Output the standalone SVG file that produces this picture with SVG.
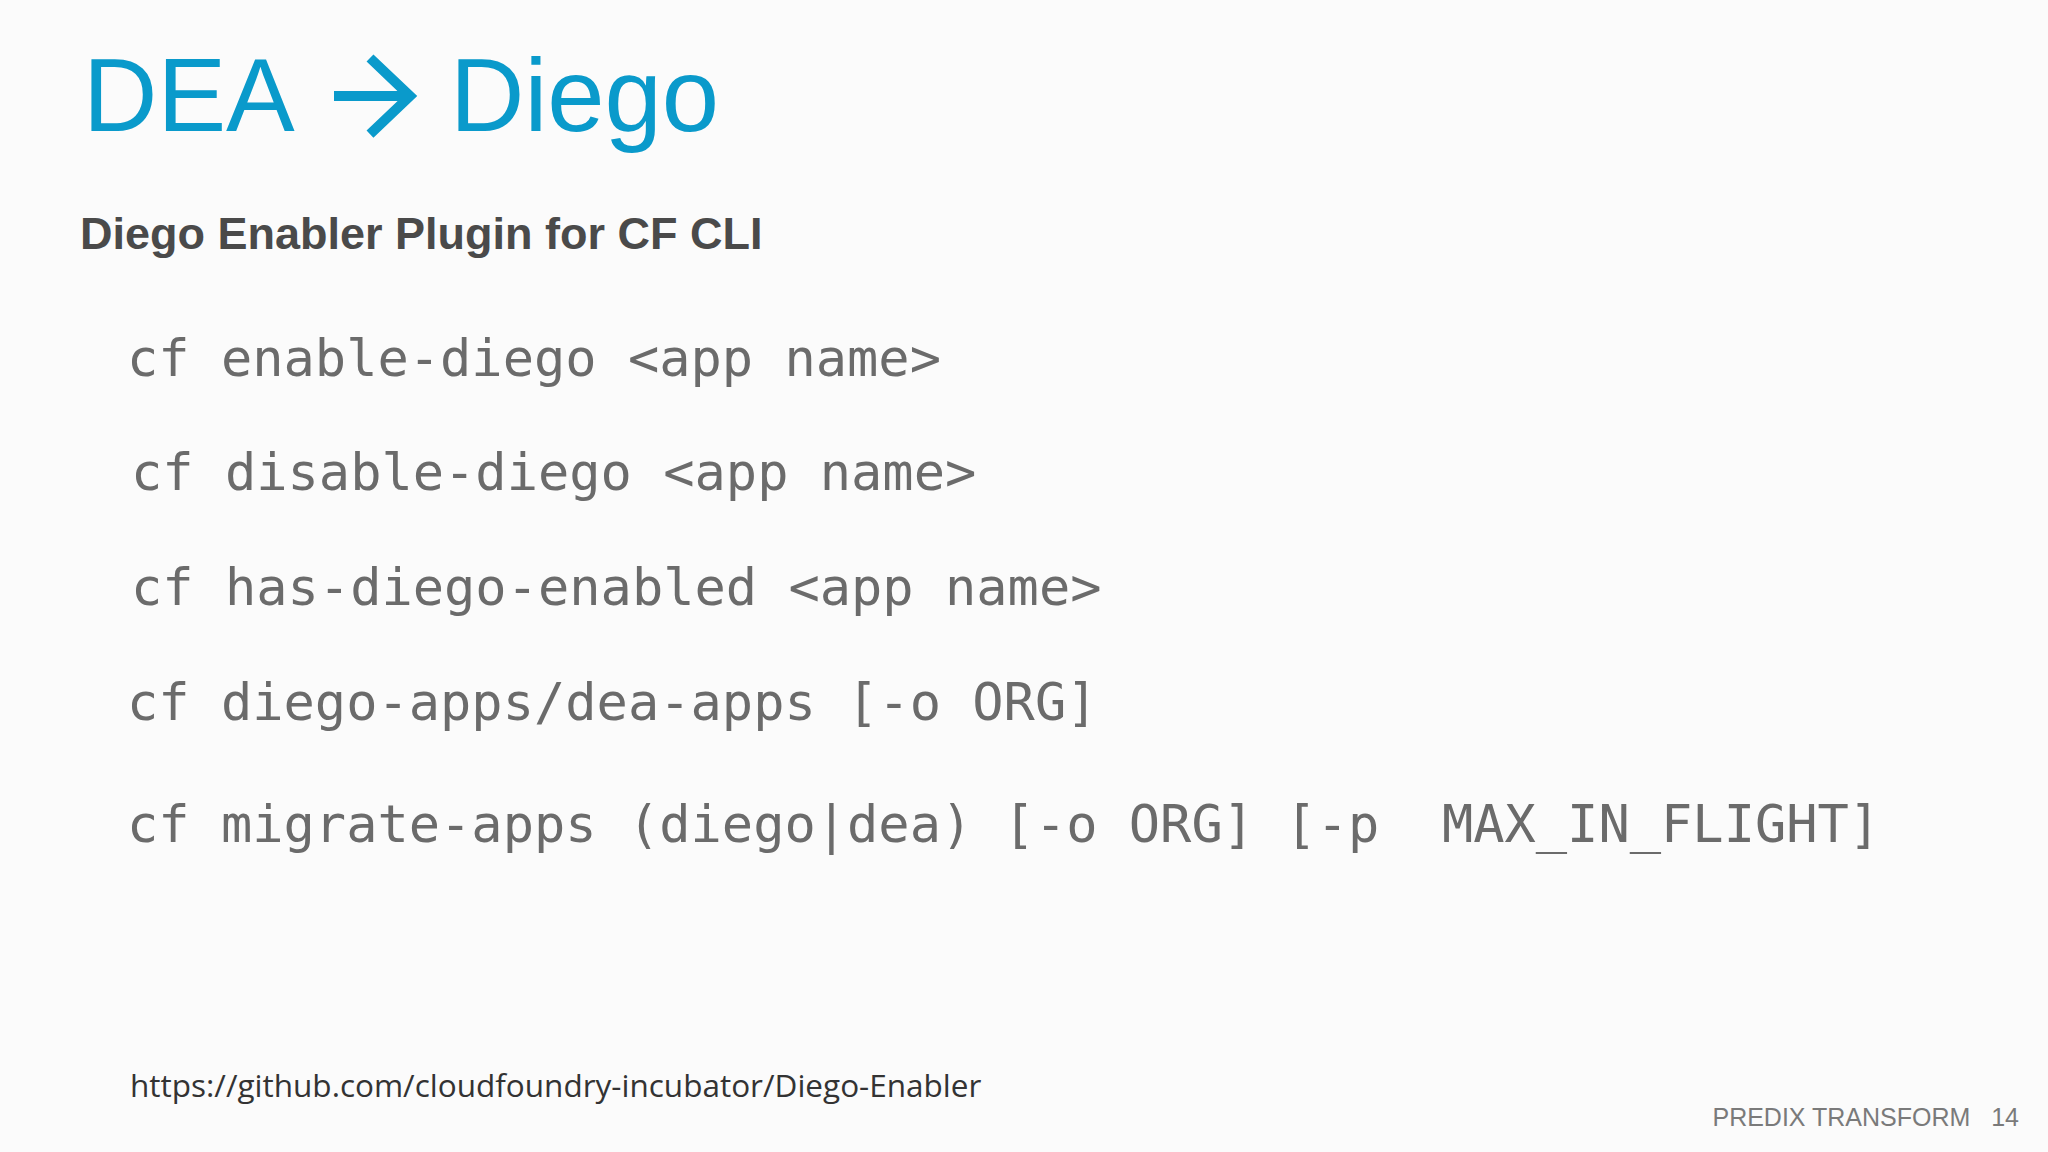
<svg xmlns="http://www.w3.org/2000/svg" width="2048" height="1152" viewBox="0 0 2048 1152" xml:space="preserve">
<style>
.code{font-family:"DejaVu Sans Mono",monospace;font-size:52px;fill:#6b6b6b;white-space:pre}
.t{font-family:"Liberation Sans",Arial,sans-serif;font-size:103px;fill:#0a9acb}
</style>
<rect width="2048" height="1152" fill="#fbfbfb"/>
<g id="title">
<text class="t" x="83" y="131">DEA</text>
<path d="M334 96 H410 M370 58 L410 96 L370 134" fill="none" stroke="#0a9acb" stroke-width="10" stroke-linejoin="miter"/>
<text class="t" x="450" y="131">Diego</text>
</g>
<text x="80" y="249" font-family="Liberation Sans, Arial, sans-serif" font-size="45" font-weight="bold" fill="#4a4a4a">Diego Enabler Plugin for CF CLI</text>
<text class="code" x="127" y="376">cf enable-diego &lt;app name&gt;</text>
<text class="code" x="131" y="490">cf disable-diego &lt;app name&gt;</text>
<text class="code" x="131" y="605">cf has-diego-enabled &lt;app name&gt;</text>
<text class="code" x="127" y="720">cf diego-apps/dea-apps [-o ORG]</text>
<text class="code" x="127" y="842">cf migrate-apps (diego|dea) [-o ORG] [-p  MAX_IN_FLIGHT]</text>
<text x="130" y="1097" font-family="Open Sans, sans-serif" font-size="31.5" fill="#333">https://github.com/cloudfoundry-incubator/Diego-Enabler</text>
<text x="2019" y="1126" text-anchor="end" font-family="Liberation Sans, Arial, sans-serif" font-size="25" fill="#7a7a7a" style="white-space:pre">PREDIX TRANSFORM   14</text>
</svg>
